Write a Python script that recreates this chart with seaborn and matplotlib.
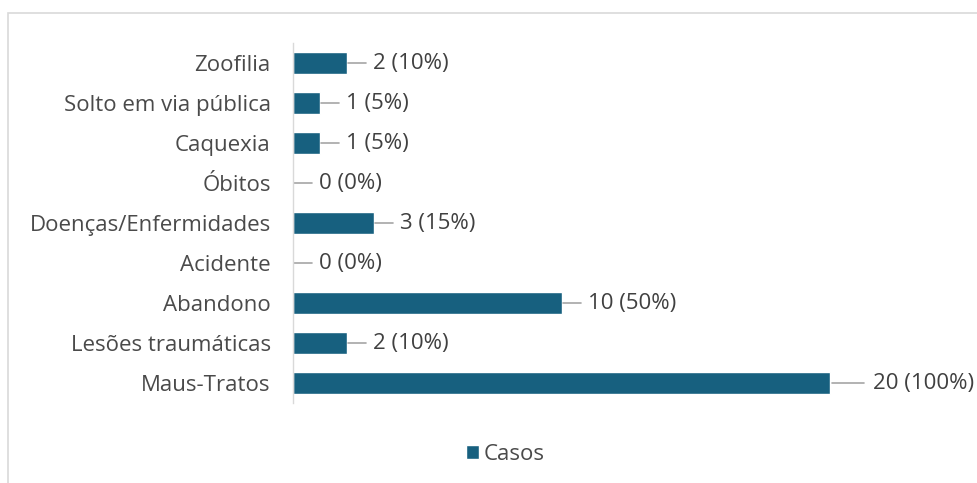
import matplotlib
matplotlib.use("Agg")
import matplotlib.pyplot as plt
import seaborn as sns
import pandas as pd
from matplotlib.patches import Rectangle

# dados (de cima para baixo)
categorias = ["Zoofilia", "Solto em via pública", "Caquexia", "Óbitos",
              "Doenças/Enfermidades", "Acidente", "Abandono",
              "Lesões traumáticas", "Maus-Tratos"]
casos = [2, 1, 1, 0, 3, 0, 10, 2, 20]
percentuais = [10, 5, 5, 0, 15, 0, 50, 10, 100]

df = pd.DataFrame({"categoria": categorias, "casos": casos})

cor = "#17607F"
cinza_txt = "#4A4A4A"

sns.set_style("white")
plt.rcParams["font.family"] = ["Open Sans", "DejaVu Sans"]
fs = 16

fig = plt.figure(figsize=(9.78, 4.83), dpi=100)
ax = fig.add_axes([293 / 978, 80 / 483, (978 - 293) / 978, 360 / 483])

sns.barplot(data=df, x="casos", y="categoria", color=cor, width=0.55,
            saturation=1, ax=ax, label="Casos")

ax.set_xlim(0, 25.5)
ax.set_ylim(8.5, -0.5)
ax.set_xlabel("")
ax.set_ylabel("")
ax.set_xticks([])
for s in ["top", "right", "bottom"]:
    ax.spines[s].set_visible(False)
ax.spines["left"].set_color("#D9D9D9")
ax.spines["left"].set_linewidth(1)
ax.tick_params(axis="y", length=0, pad=16, labelsize=fs, labelcolor=cinza_txt)

# rotulos com linha guia (a barra maior tem a linha mais longa)
for i, (v, p) in enumerate(zip(casos, percentuais)):
    fim, txt = (1.25, 1.6) if v == max(casos) else (0.72, 0.98)
    ax.plot([v + 0.05, v + fim], [i, i], color="#A6A6A6", lw=1.2)
    ax.text(v + txt, i, f"{v} ({p}%)", va="center", ha="left",
            fontsize=fs, color="#404040")

leg = ax.legend(loc="center", bbox_to_anchor=(505 / 978, 29 / 483),
                bbox_transform=fig.transFigure, frameon=False, fontsize=fs,
                handlelength=0.6, handleheight=0.6, handletextpad=0.2)
for t in leg.get_texts():
    t.set_color(cinza_txt)

# moldura do grafico
fig.patches.append(Rectangle((8 / 978, -0.1), 1.2, (483 - 13) / 483 + 0.1,
                             transform=fig.transFigure, fill=False,
                             edgecolor="#D9D9D9", lw=1.2))

fig.savefig("out.png", dpi=100)
